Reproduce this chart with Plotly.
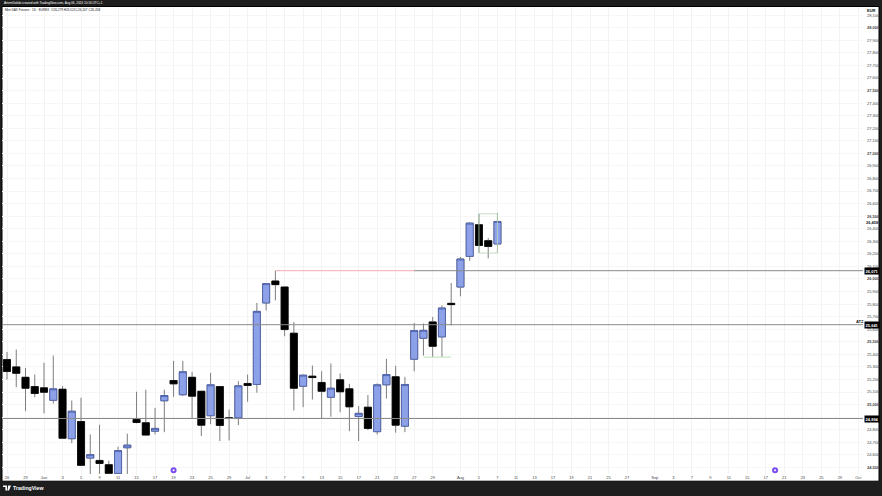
import plotly.graph_objects as go

# daily candles
opens = [25358, 25300, 25217, 25143, 25133, 25034, 25122, 24728, 24865, 24574, 24555, 24521, 24452, 24656,
         24881, 24855, 24788, 25030, 25191, 25078, 25217, 25106, 24911, 25143, 24895, 24895, 25168, 25160,
         25809, 25984, 25936, 25568, 25146, 25226, 25176, 25058, 25197, 25125, 24905, 24979, 24784, 25157,
         25221, 24828, 25361, 25528, 25658, 25539, 25806, 25936, 26180, 26432, 26305, 26279]
highs = [25419, 25438, 25292, 25239, 25332, 25390, 25146, 25032, 25054, 24762, 24839, 24553, 24664, 24768,
         25102, 25118, 24974, 25118, 25348, 25348, 25261, 25106, 25253, 25143, 24961, 25186, 25239, 25809,
         25963, 26066, 25936, 25658, 25239, 25311, 25265, 25327, 25247, 25165, 24987, 25076, 25168, 25364,
         25308, 25221, 25650, 25645, 25698, 25790, 25968, 26175, 26450, 26519, 26326, 26524]
lows = [25199, 25138, 24947, 25058, 24929, 25008, 24732, 24693, 24516, 24446, 24446, 24452, 24452, 24446,
        24850, 24757, 24762, 24780, 25062, 25067, 24889, 24749, 24844, 24709, 24714, 24836, 25022, 25094,
        25750, 25830, 25544, 24953, 24979, 25040, 24887, 24903, 24939, 24788, 24709, 24796, 24762, 25048,
        24776, 24780, 25265, 25390, 25380, 25380, 25629, 25862, 26145, 26207, 26164, 26207]
closes = [25263, 25249, 25130, 25088, 25098, 25125, 24732, 24947, 24516, 24601, 24531, 24452, 24633, 24677,
          24857, 24757, 24810, 25072, 25165, 25261, 25067, 24836, 25157, 24834, 24889, 25149, 25152, 25742,
          25963, 25955, 25597, 25130, 25234, 25215, 25106, 25130, 25102, 24982, 24930, 24810, 25157, 25239,
          24836, 25160, 25589, 25591, 25464, 25769, 25796, 26159, 26445, 26267, 26259, 26458]

x_tick_pos = [0, 2, 4, 6, 8, 10, 12, 14, 16, 18, 20, 22, 24, 26, 28, 30, 32, 34, 36, 38, 40, 42, 44, 46,
              49, 51, 53, 55, 57, 59, 61, 63, 65, 67, 70, 72, 74, 76, 78, 80, 82, 84, 86, 88, 90, 92]
x_tick_text = ["26", "29", "Jun", "3", "5", "9", "11", "15", "17", "19", "23", "25", "29", "Jul", "3", "7",
               "9", "13", "15", "17", "21", "23", "27", "29", "Aug", "5", "7", "11", "13", "17", "19", "21",
               "25", "27", "Sep", "3", "7", "9", "11", "15", "17", "21", "23", "25", "29", "Oct"]

price_ticks = list(range(24500, 28200, 100))
price_text = [f"<b>{p:,}</b>" if p % 500 == 0 else f"{p:,}" for p in price_ticks]

# horizontal levels
level_prices = [26066, 25636, 24889]
level_names = ["26,071", "25,641", "24,894"]
last_price = 26458
sweep_price = 25378
event_bars = [18, 83]
event_price = 24476

BLUE = "#8ca1e8"
BLUE_EDGE = "#3f54a8"
WICK = "#7d7d7d"
DARK = "#1e1e1e"
X_RANGE = [-0.54, 92.5]
Y_RANGE = [24447, 28166]
bars = list(range(len(opens)))


def px(x):
    return (x - 2) / 861


def py(y):
    return (474.5 - y) / 467.5


fig = go.Figure()

# wicks first, then the bodies over them so wick and border can differ in colour
fig.add_trace(go.Candlestick(
    x=bars, open=opens, high=highs, low=lows, close=closes, whiskerwidth=0,
    increasing=dict(line=dict(color=WICK, width=1), fillcolor=WICK),
    decreasing=dict(line=dict(color=WICK, width=1), fillcolor=WICK),
))
fig.add_trace(go.Candlestick(
    x=bars, open=opens, close=closes, whiskerwidth=0,
    high=[max(o, c) for o, c in zip(opens, closes)],
    low=[min(o, c) for o, c in zip(opens, closes)],
    increasing=dict(line=dict(color=BLUE_EDGE, width=0.7), fillcolor=BLUE),
    decreasing=dict(line=dict(color="#000000", width=0.7), fillcolor="#000000"),
))
fig.add_trace(go.Scatter(x=event_bars, y=[event_price] * 2, mode="markers",
                         marker=dict(color="#7a4df0", size=6), cliponaxis=False))
fig.add_trace(go.Scatter(x=event_bars, y=[event_price] * 2, mode="markers",
                         marker=dict(color="#ffffff", size=2), cliponaxis=False))

# white chart frame on the dark page
fig.add_shape(type="rect", xref="paper", yref="paper", layer="below",
              x0=px(2), x1=px(879), y0=py(481.7), y1=py(6.5),
              fillcolor="#ffffff", line=dict(color="#000000", width=1))

for price, x0 in zip(level_prices, [44, X_RANGE[0], X_RANGE[0]]):
    fig.add_shape(type="line", x0=x0, x1=X_RANGE[1], y0=price, y1=price,
                  line=dict(color="#8a8a8a", width=1))
fig.add_shape(type="line", x0=29, x1=44, y0=level_prices[0], y1=level_prices[0],
              line=dict(color="#f4a9b4", width=1))
fig.add_shape(type="line", x0=45, x1=48, y0=sweep_price, y1=sweep_price,
              line=dict(color="#b5e3b5", width=1))
fig.add_shape(type="rect", x0=51, x1=53, y0=lows[51], y1=highs[51],
              line=dict(color="#b9d8b9", width=0.8))

# TradingView mark, bottom left
fig.add_shape(type="path", xref="paper", yref="paper", fillcolor="#ffffff", line=dict(width=0),
              path=f"M {px(3)} {py(486)} L {px(7)} {py(486)} L {px(7)} {py(491)} L {px(5.4)} {py(491)} "
                   f"L {px(5.4)} {py(487.6)} L {px(3)} {py(487.6)} Z "
                   f"M {px(8.2)} {py(486)} L {px(11)} {py(486)} L {px(9)} {py(491)} L {px(7.4)} {py(491)} Z")


def note(text, x, y, size=4, color="#131722", anchor="left", **kw):
    fig.add_annotation(text=text, x=px(x), y=py(y), xref="paper", yref="paper", showarrow=False,
                       xanchor=anchor, yanchor="middle", align="left",
                       font=dict(size=size, color=color), borderpad=0, **kw)


note("ArtemGolubi created with TradingView.com, Aug 06, 2024 10:16 UTC+1", 2.5, 3.2, 3.1, "#ffffff")
note("Mini DAX Futures · 1D · EUREX  O26,279 H26,524 L26,207 C26,458", 4, 10.5, 3.1)
note("<b>EUR</b>", 872, 10.5, 4, anchor="center")
note("<b>ATZ</b>", 859.5, 322.3, 4, anchor="center")
note("<b>TradingView</b>", 12, 488.5, 5.2, "#ffffff")

# labels sitting on the price scale
for price, name in zip(level_prices, level_names):
    fig.add_annotation(text=f"<b>{name}</b>", x=px(872), xref="paper", xanchor="center", y=price, yref="y",
                       showarrow=False, font=dict(size=4, color="#ffffff"), bgcolor="#000000", borderpad=0.6)
fig.add_annotation(text=f"<b>{last_price:,}</b>", x=px(872.5), xref="paper", xanchor="center", y=26453, yref="y",
                   showarrow=False, font=dict(size=4, color="#131722"), borderpad=0)

fig.update_layout(
    width=882, height=496, margin=dict(l=2, r=19, t=7, b=21.5),
    paper_bgcolor=DARK, plot_bgcolor="rgba(0,0,0,0)", showlegend=False,
    boxmode="overlay", boxgap=0.24, boxgroupgap=0,
    font=dict(family="Liberation Sans, Arial, sans-serif", color="#131722"),
    xaxis=dict(range=X_RANGE, rangeslider=dict(visible=False), tickmode="array", tickvals=x_tick_pos,
               ticktext=x_tick_text, tickangle=0, tickfont=dict(size=4, color="#444444"),
               showgrid=True, gridcolor="#f3f3f3", gridwidth=1, zeroline=False, showline=False,
               ticks="", ticklabelstandoff=0),
    yaxis=dict(range=Y_RANGE, side="right", tickmode="array", tickvals=price_ticks, ticktext=price_text,
               tickfont=dict(size=4, color="#444444"), showgrid=True, gridcolor="#f6f6f6", gridwidth=1,
               zeroline=False, showline=False, ticks="", ticklabelstandoff=3),
)

# the browser's default body margin would push the 882 wide figure off the page
fig.write_html("out.html", config=dict(displayModeBar=False),
               post_script="document.body.style.margin='0';document.documentElement.style.overflow='hidden';")
